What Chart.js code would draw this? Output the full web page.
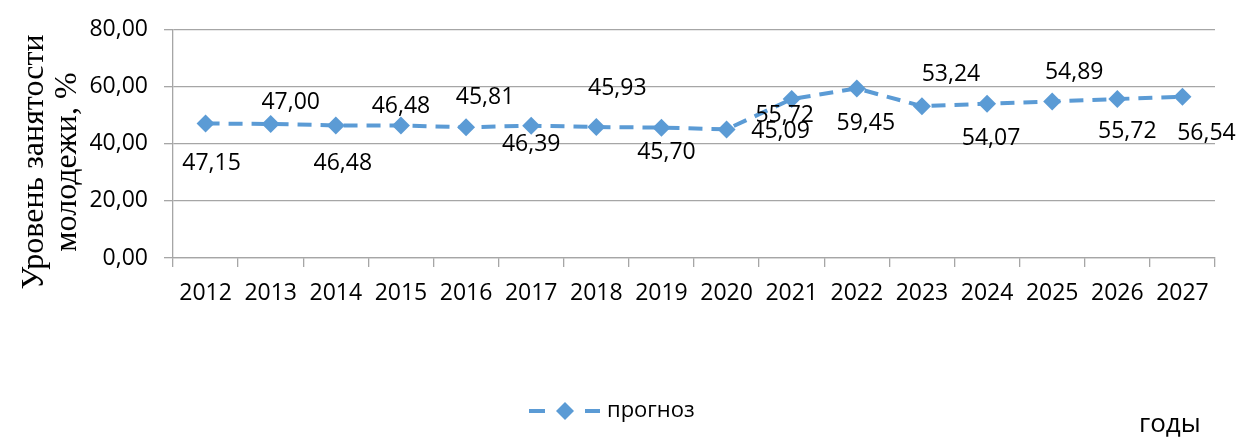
<!DOCTYPE html>
<html>
<head>
<meta charset="utf-8">
<script src="https://cdn.jsdelivr.net/npm/chart.js@4.4.1/dist/chart.umd.min.js"></script>
<style>
  html, body { margin: 0; padding: 0; background: #fff; }
  #wrap { width: 1239px; height: 437px; position: relative; }
</style>
</head>
<body>
<div id="wrap"><canvas id="chart" width="1239" height="437"></canvas></div>
<script>
// -- Data --
const years = ['2012', '2013', '2014', '2015', '2016', '2017', '2018', '2019',
               '2020', '2021', '2022', '2023', '2024', '2025', '2026', '2027'];
const forecast = [47.15, 47.00, 46.48, 46.48, 45.81, 46.39, 45.93, 45.70,
                  45.09, 55.72, 59.45, 53.24, 54.07, 54.89, 55.72, 56.54];
const yTicks = [0, 20, 40, 60, 80];
const seriesName = 'прогноз';
const yTitle = ['Уровень занятости', 'молодежи, %'];
const xTitle = 'годы';

const BLUE = '#5b9bd5';
const GRID = '#a6a6a6';
const FONT = '"Open Sans", sans-serif';

// label placement relative to its point (Excel put them around the marker)
const labelOffsets = [
    [6, 40], [20, -21], [7, 38], [0, -19], [19, -30], [0, 19], [21, -39], [5, 25],
    [54, 2], [-7, 16], [9, 35], [29, -32], [4, 35], [22, -29], [10, 32], [24, 37]
];

function fmt(v) {
    return v.toFixed(2).replace('.', ',');
}

// -- Custom drawing: data labels, axis titles, legend --
const extras = {
    id: 'extras',
    afterDatasetsDraw(chart) {
        const ctx = chart.ctx;
        const meta = chart.getDatasetMeta(0);
        ctx.save();
        ctx.fillStyle = '#000';
        ctx.font = `23px ${FONT}`;
        ctx.textAlign = 'center';
        ctx.textBaseline = 'middle';
        meta.data.forEach((pt, i) => {
            const off = labelOffsets[i];
            ctx.fillText(fmt(forecast[i]), pt.x + off[0], pt.y + off[1]);
        });
        ctx.restore();
    },
    afterDraw(chart) {
        const ctx = chart.ctx;
        ctx.save();
        // y title, two rotated lines
        ctx.fillStyle = '#000';
        ctx.font = `32px "Liberation Serif", serif`;
        ctx.textAlign = 'center';
        ctx.textBaseline = 'alphabetic';
        [[43, yTitle[0]], [76, yTitle[1]]].forEach(([x, t]) => {
            ctx.save();
            ctx.translate(x, 162);
            ctx.rotate(-Math.PI / 2);
            ctx.fillText(t, 0, 0);
            ctx.restore();
        });

        // legend
        const ly = 411;
        ctx.strokeStyle = BLUE;
        ctx.lineWidth = 4;
        ctx.beginPath();
        ctx.moveTo(529, ly); ctx.lineTo(545, ly);
        ctx.moveTo(585, ly); ctx.lineTo(600, ly);
        ctx.stroke();
        ctx.fillStyle = BLUE;
        ctx.beginPath();
        ctx.moveTo(565, ly - 9); ctx.lineTo(574, ly); ctx.lineTo(565, ly + 9); ctx.lineTo(556, ly);
        ctx.closePath();
        ctx.fill();
        ctx.fillStyle = '#000';
        ctx.font = `22px ${FONT}`;
        ctx.textAlign = 'left';
        ctx.textBaseline = 'middle';
        ctx.fillText(seriesName, 607, ly);

        // x title
        ctx.font = `26px ${FONT}`;
        ctx.fillText(xTitle, 1139, 425);
        ctx.restore();
    }
};

const ctx = document.getElementById('chart').getContext('2d');
window.myChart = new Chart(ctx, {
    type: 'line',
    data: {
        labels: years,
        datasets: [{
            label: seriesName,
            data: forecast,
            borderColor: BLUE,
            backgroundColor: BLUE,
            borderWidth: 4,
            borderDash: [14, 9],
            pointStyle: 'rectRot',
            pointRadius: 9,
            pointHoverRadius: 9,
            pointBorderWidth: 0,
            tension: 0
        }]
    },
    options: {
        responsive: false,
        animation: false,
        devicePixelRatio: 1,
        layout: { padding: { top: 29, right: 24, left: 0, bottom: 0 } },
        plugins: {
            legend: { display: false },
            tooltip: { enabled: false }
        },
        scales: {
            x: {
                offset: true,
                grid: {
                    offset: true,
                    drawOnChartArea: false,
                    drawTicks: true,
                    tickLength: 9,
                    color: GRID,
                    lineWidth: 1.3
                },
                border: { color: GRID, width: 1.3 },
                ticks: {
                    color: '#000',
                    font: { family: FONT, size: 23 },
                    padding: 13,
                    maxRotation: 0,
                    autoSkip: false
                },
                afterFit(scale) { scale.height = 179; }
            },
            y: {
                min: 0,
                max: 80,
                afterBuildTicks(scale) {
                    scale.ticks = yTicks.map(v => ({ value: v }));
                },
                grid: {
                    color: GRID,
                    lineWidth: 1.3,
                    tickLength: 9
                },
                border: { color: GRID, width: 1.3 },
                ticks: {
                    color: '#000',
                    font: { family: FONT, size: 23 },
                    padding: 16,
                    callback: v => fmt(v)
                },
                afterFit(scale) { scale.width = 173; }
            }
        }
    },
    plugins: [extras]
});
</script>
</body>
</html>
